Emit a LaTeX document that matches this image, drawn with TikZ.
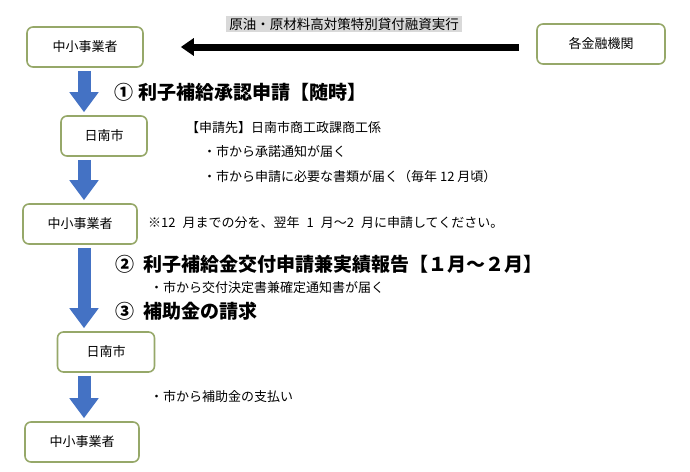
\documentclass[tikz,border=0pt]{standalone}
\usepackage{fontspec}
\setmainfont{Noto Sans CJK JP}
\usetikzlibrary{arrows.meta, calc}
\definecolor{colBox}{RGB}{150, 168, 105}
\definecolor{colArrow}{RGB}{68, 114, 196}
\definecolor{colLabel}{RGB}{217, 217, 217}

\begin{document}
\begin{tikzpicture}[x=1pt, y=-1pt,
    flowbox/.style={draw=colBox, line width=1.6pt, rounded corners=6pt, fill=white,
        minimum height=40pt, inner sep=0pt, font=\fontsize{13}{15}\selectfont},
    stephead/.style={anchor=west, inner sep=0pt, font=\fontsize{19}{21}\selectfont\bfseries},
    memo/.style={anchor=west, inner sep=0pt, font=\fontsize{13}{15}\selectfont},
    bluedown/.style={line width=13pt, draw=colArrow, shorten <=3pt, shorten >=3pt,
        -{Triangle[width=28pt, length=20pt]}},
    loanarrow/.style={line width=7pt, draw=black, -{Triangle[width=17pt, length=13pt]}}]
    \useasboundingbox (0, 0) rectangle (690, 471);

    % kotak-kotak
    \node[flowbox, minimum width=116pt] (sme1) at (85, 47) {中小事業者};
    \node[flowbox, minimum width=128pt] (bank) at (601, 44) {各金融機関};
    \node[flowbox, minimum width=86pt] (city1) at (104, 136) {日南市};
    \node[flowbox, minimum width=114pt] (sme2) at (80, 224) {中小事業者};
    \node[flowbox, minimum width=97pt] (city2) at (106, 352) {日南市};
    \node[flowbox, minimum width=114pt] (sme3) at (82, 442) {中小事業者};

    %融資実行
    \node[fill=colLabel, inner xsep=3pt, inner ysep=2pt, font=\fontsize{13.5}{15}\selectfont] (loan) at (344, 24) {原油・原材料高対策特別貸付融資実行};
    \draw[loanarrow, shorten <=17pt, shorten >=37pt] (bank.west |- sme1.east) -- (sme1.east);

    % panah biru
    \coordinate (ax) at (84, 0);
    \draw[bluedown] (ax |- sme1.south) -- (ax |- city1.north);
    \draw[bluedown] (ax |- city1.south) -- (ax |- sme2.north);
    \draw[bluedown] (ax |- sme2.south) -- (ax |- city2.north);
    \draw[bluedown] (ax |- city2.south) -- (ax |- sme3.north);

    % teks
    \node[stephead] (step1) at (114, 92) {①\hspace{5pt}利子補給承認申請【随時】};
    \node[memo] (dest) at (186, 128) {【申請先】日南市商工政課商工係};
    \node[memo] (note1) at (203, 152) {・市から承諾通知が届く};
    \node[memo] (note2) at (203, 177) {・市から申請に必要な書類が届く（毎年 12 月頃）};
    \node[memo] (memo1) at (148, 223) {※12\hspace{7pt}月までの分を、翌年\hspace{7pt}1\hspace{7pt}月〜2\hspace{7pt}月に申請してください。};
    \node[stephead] (step2) at (115, 264) {②\hspace{9pt}利子補給金交付申請兼実績報告【１月～２月】};
    \node[memo] (note3) at (150, 288) {・市から交付決定書兼確定通知書が届く};
    \node[stephead] (step3) at (115, 311) {③\hspace{9pt}補助金の請求};
    \node[memo] (note4) at (150, 397) {・市から補助金の支払い};
\end{tikzpicture}
\end{document}
